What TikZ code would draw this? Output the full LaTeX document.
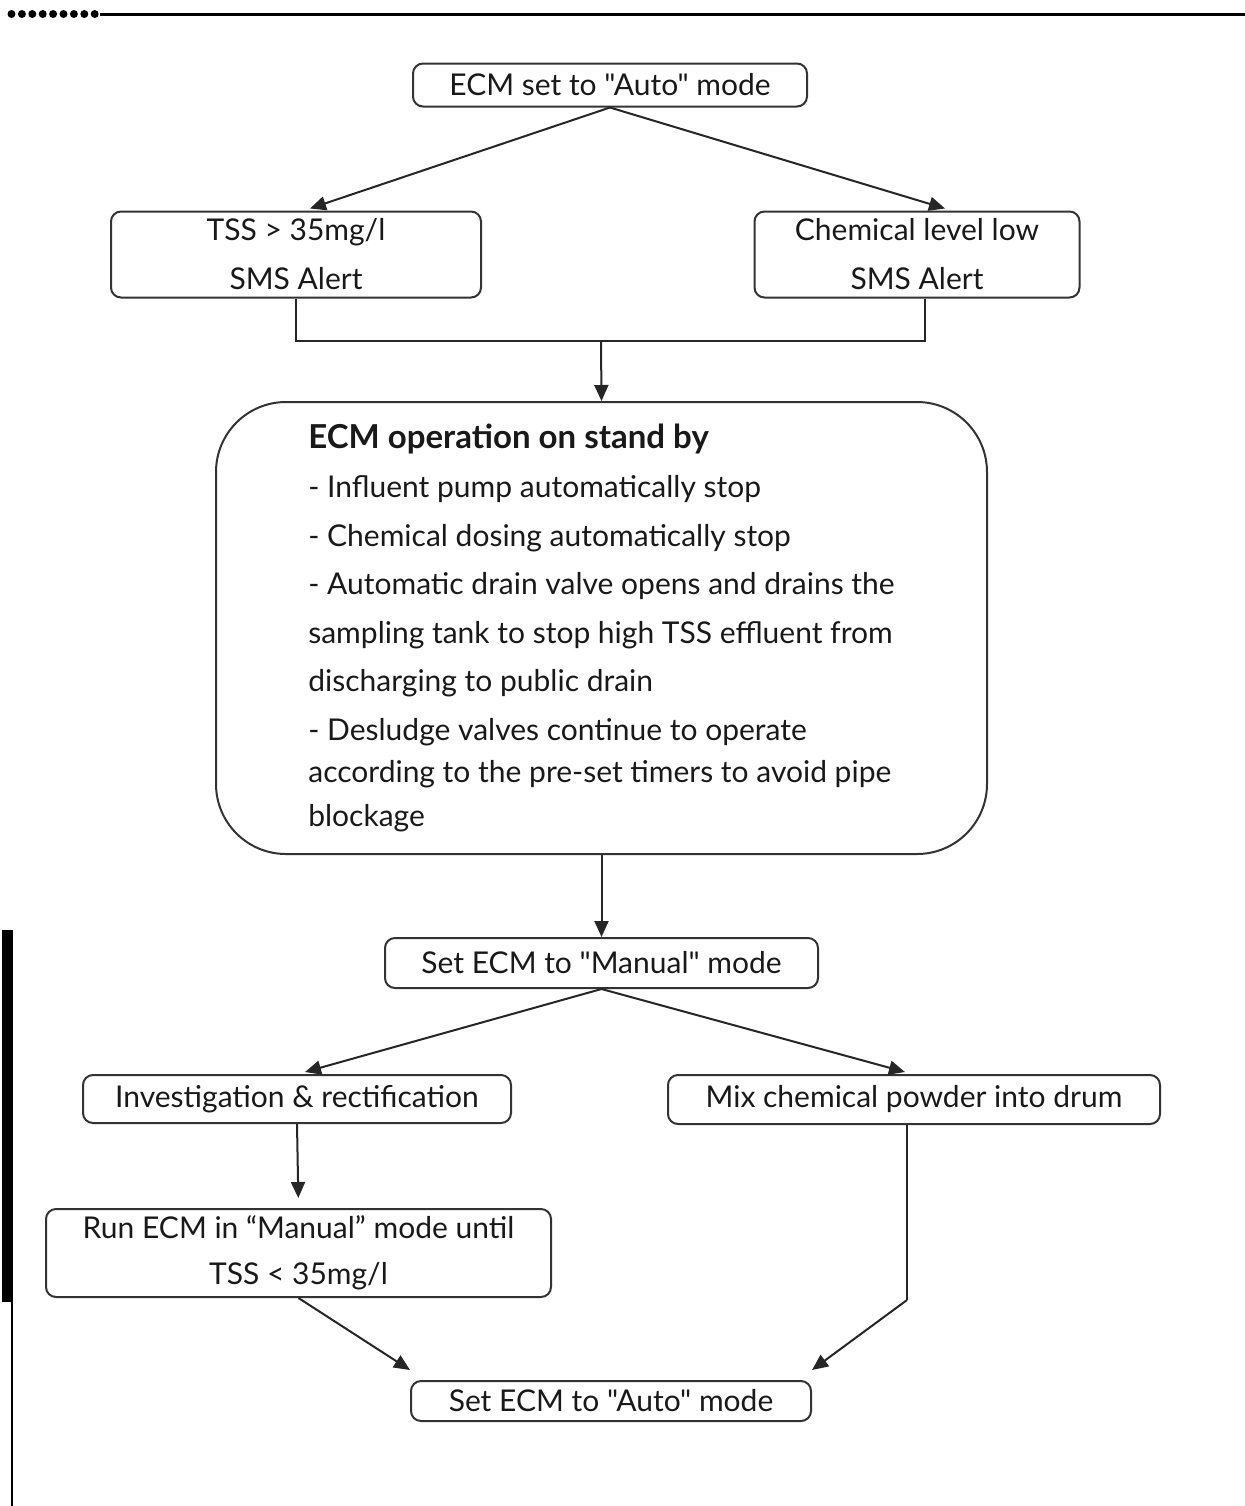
\documentclass[tikz,border=0pt]{standalone}
\usepackage{fontspec}
\setmainfont{Lato}[Ligatures=TeXOff]
\usetikzlibrary{arrows.meta,positioning}
\tikzstyle{arrow} = [line width=1pt,draw=black!85,-{Triangle[length=8pt,width=7pt]}]
\tikzstyle{wire} = [line width=1pt,draw=black!85]
\tikzstyle{box} = [draw=black!80,line width=1pt,rounded corners=5pt,inner sep=0pt,align=center,text=black!90,font=\fontsize{15}{18}\selectfont]

\begin{document}
\begin{tikzpicture}[x=0.5pt,y=-0.5pt]
\useasboundingbox (0,0) rectangle (1245,1506);

% page marks
\foreach \i in {0,...,8}
  \fill (11.5+\i*10.4,14) circle [radius=2pt];
\draw[line width=1.5pt] (100,14) -- (1245,14);
\fill (2,930) rectangle (13,1302);
\draw[line width=1pt] (12,1302) -- (12,1506);

% boxes
\node[box, minimum width=197pt, minimum height=21.5pt] (auto) at (610,85) {ECM set to "Auto" mode};
\node[box, minimum width=185pt, minimum height=43pt] (tss) at (296,254.5) {TSS > 35mg/l\\[6.5pt]SMS Alert};
\node[box, minimum width=162.5pt, minimum height=43pt] (chem) at (917,254.5) {Chemical level low\\[6.5pt]SMS Alert};
\node[box, rounded corners=35pt, minimum width=385.5pt, minimum height=226pt, align=left, font=\fontsize{15}{18}\selectfont] (stand) at (601.5,628)
  {{\fontsize{16.5}{18}\selectfont\textbf{ECM operation on stand by}}\\[6.5pt]
   - Influent pump automatically stop\\[6.3pt]
   - Chemical dosing automatically stop\\[6.3pt]
   - Automatic drain valve opens and drains the\\[6.3pt]
   sampling tank to stop high TSS effluent from\\[6.3pt]
   discharging to public drain\\[6.3pt]
   - Desludge valves continue to operate\\[3.2pt]
   according to the pre-set timers to avoid pipe\\[3.8pt]
   blockage};
\node[box, minimum width=216.5pt, minimum height=25pt] (manual) at (601.5,963) {Set ECM to "Manual" mode};
\node[box, minimum width=214pt, minimum height=24pt] (invest) at (297,1099) {Investigation \& rectification};
\node[box, minimum width=246pt, minimum height=24.5pt] (mix) at (914,1099.5) {Mix chemical powder into drum};
\node[box, minimum width=252.5pt, minimum height=44pt] (run) at (298.5,1253) {Run ECM in “Manual” mode until\\[5pt]TSS < 35mg/l};
\node[box, minimum width=200pt, minimum height=20pt] (final) at (611,1401) {Set ECM to "Auto" mode};

% connectors
\coordinate (bus) at (601,341);
\coordinate (mixbend) at (907,1300);
\draw[arrow] (auto.south) -- ([xshift=7pt,yshift=1pt]tss.north);
\draw[arrow] (auto.south) -- ([xshift=14pt,yshift=1pt]chem.north);
\draw[wire] (tss.south) |- (bus) -| ([xshift=4pt]chem.south);
\draw[arrow] (bus) -- (stand.north);
\draw[arrow] (stand.south) -- (manual.north);
\draw[arrow] (manual.south) -- ([xshift=4pt,yshift=1pt]invest.north);
\draw[arrow] (manual.south) -- ([xshift=-4.5pt,yshift=1pt]mix.north);
\draw[arrow, shorten >=5pt] (invest.south) -- (run.north);
\draw[arrow] (run.south) -- ([yshift=5pt]final.north west);
\draw[wire] ([xshift=-3.5pt]mix.south) -- (mixbend);
\draw[arrow] (mixbend) -- ([yshift=5pt]final.north east);
\end{tikzpicture}
\end{document}
